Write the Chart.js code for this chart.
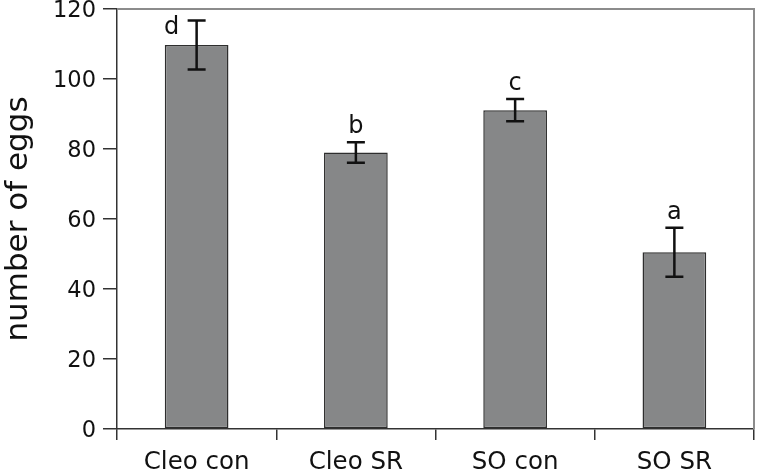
<!DOCTYPE html>
<html>
<head>
<meta charset="utf-8">
<script src="https://cdn.jsdelivr.net/npm/chart.js@4"></script>
<style>
  html, body { margin: 0; padding: 0; background: #fff; }
  #wrap { width: 760px; height: 474px; }
</style>
</head>
<body>
<div id="wrap"><canvas id="eggChart" width="760" height="474"></canvas></div>
<script>
const categories = ['Cleo con', 'Cleo SR', 'SO con', 'SO SR'];
const meanEggs = [109.7, 79.0, 91.1, 50.5];
const errEggs = [7.0, 2.9, 3.2, 7.0];
const groupLetters = ['d', 'b', 'c', 'a'];
const yTicks = [0, 20, 40, 60, 80, 100, 120];

const FONT = "'DejaVu Sans', sans-serif";

// error bars, significance letters and the gray top/right frame
const extras = {
    id: 'extras',
    afterDatasetsDraw(chart) {
        const ctx = chart.ctx;
        const y = chart.scales.y;
        const area = chart.chartArea;
        const bars = chart.getDatasetMeta(0).data;
        ctx.save();
        ctx.strokeStyle = '#111';
        ctx.lineWidth = 2.5;
        bars.forEach(function(bar, i) {
            const x = bar.x;
            const top = y.getPixelForValue(meanEggs[i] + errEggs[i]);
            const bot = y.getPixelForValue(meanEggs[i] - errEggs[i]);
            ctx.beginPath();
            ctx.moveTo(x, top); ctx.lineTo(x, bot);
            ctx.moveTo(x - 9, top); ctx.lineTo(x + 9, top);
            ctx.moveTo(x - 9, bot); ctx.lineTo(x + 9, bot);
            ctx.stroke();

            ctx.fillStyle = '#111';
            ctx.font = '24px ' + FONT;
            ctx.textAlign = 'center';
            ctx.textBaseline = 'alphabetic';
            if (top - 32 < area.top) {
                ctx.fillText(groupLetters[i], x - 25, top + 13);
            } else {
                ctx.fillText(groupLetters[i], x, top - 9);
            }
        });
        ctx.strokeStyle = '#8c8c8c';
        ctx.lineWidth = 2;
        ctx.beginPath();
        ctx.moveTo(area.left, area.top);
        ctx.lineTo(area.right, area.top);
        ctx.lineTo(area.right, area.bottom);
        ctx.stroke();
        ctx.restore();
    }
};

new Chart(document.getElementById('eggChart').getContext('2d'), {
    type: 'bar',
    data: {
        labels: categories,
        datasets: [{
            data: meanEggs,
            backgroundColor: '#868788',
            borderColor: '#2e2e2e',
            borderWidth: 1.5,
            borderSkipped: false,
            categoryPercentage: 1,
            barPercentage: 0.4
        }]
    },
    options: {
        responsive: false,
        animation: false,
        layout: { padding: { top: 9, right: 6, left: 0, bottom: 0 } },
        plugins: { legend: { display: false }, tooltip: { enabled: false } },
        scales: {
            x: {
                offset: true,
                grid: { offset: true, drawOnChartArea: false, drawTicks: true, tickLength: 11, color: '#333', lineWidth: 1.5 },
                border: { display: true, color: '#333', width: 1.5 },
                ticks: { color: '#111', font: { family: FONT, size: 24.5 }, padding: 8 },
                afterFit(scale) { scale.height = 45; scale.paddingLeft = 0; scale.paddingRight = 0; }
            },
            y: {
                min: 0,
                max: 120,
                afterBuildTicks(scale) { scale.ticks = yTicks.map(v => ({ value: v })); },
                grid: { drawOnChartArea: false, drawTicks: true, tickLength: 14, color: '#333', lineWidth: 1.5 },
                border: { display: true, color: '#333', width: 1.5 },
                ticks: { color: '#111', font: { family: FONT, size: 22.5 }, padding: 7, labelOffset: 2 },
                title: { display: true, text: 'number of eggs', color: '#111', font: { family: FONT, size: 31 }, padding: { top: 0, bottom: 4 } },
                afterFit(scale) { scale.width = 117; scale.paddingTop = 0; scale.paddingBottom = 0; }
            }
        }
    },
    plugins: [extras]
});
</script>
</body>
</html>
